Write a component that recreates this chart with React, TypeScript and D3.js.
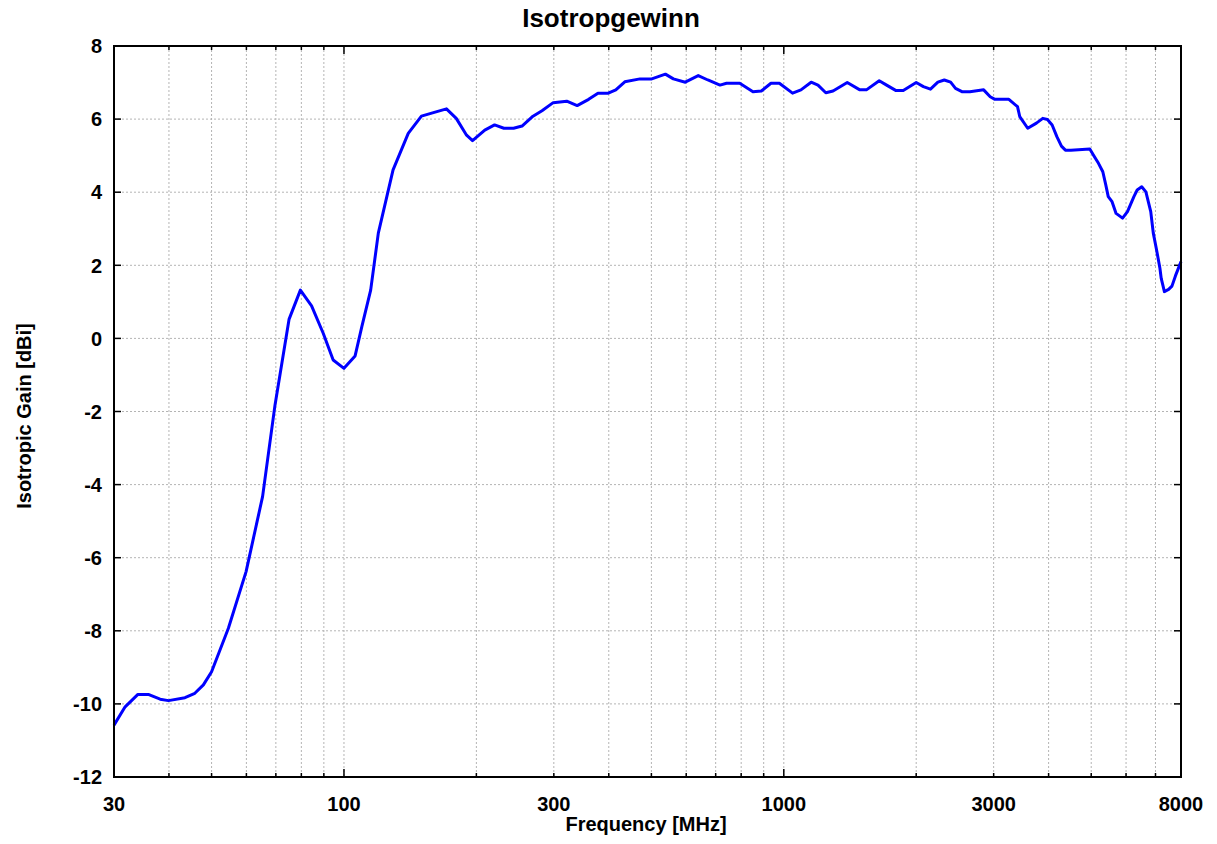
import * as d3 from "d3"

const W = 1217
const H = 844
const margin = { top: 46, right: 36, bottom: 67, left: 114 }
const innerW = W - margin.left - margin.right
const innerH = H - margin.top - margin.bottom

// frequency [MHz]
const freqs = [
  30, 31.8, 34, 35.9, 38.2, 39.9, 43.5, 45.8, 47.9, 50, 54.6, 59.9, 65.3, 69.7, 75, 79.6, 84.4, 89.7, 94.5, 100,
  106, 109.8, 115, 119.7, 129.3, 140, 150, 159, 171, 180, 190, 196, 209, 220, 231, 243, 254, 269, 282, 299, 321,
  339, 360, 378, 399, 415, 435, 471, 501, 538, 561, 597, 639, 672, 716, 741, 794, 851, 889, 935, 977, 1047, 1094,
  1154, 1196, 1246, 1294, 1394, 1489, 1541, 1648, 1713, 1800, 1869, 2000, 2077, 2155, 2240, 2317, 2395, 2457,
  2541, 2649, 2847, 2946, 3020, 3249, 3399, 3439, 3586, 3753, 3880, 3976, 4075, 4177, 4278, 4368, 4495, 4963,
  5085, 5194, 5313, 5396, 5466, 5576, 5695, 5891, 6045, 6252, 6360, 6513, 6657, 6828, 6920, 7040, 7164, 7213,
  7334, 7498, 7630, 7770, 8000,
]
// isotropic gain [dBi]
const gains = [
  -10.58, -10.08, -9.74, -9.74, -9.87, -9.91, -9.83, -9.71, -9.48, -9.12, -7.93, -6.38, -4.33, -1.82, 0.52, 1.32,
  0.89, 0.14, -0.59, -0.82, -0.48, 0.32, 1.32, 2.88, 4.61, 5.61, 6.08, 6.17, 6.28, 6.02, 5.56, 5.41, 5.7, 5.84,
  5.75, 5.75, 5.81, 6.08, 6.23, 6.45, 6.49, 6.37, 6.54, 6.71, 6.71, 6.8, 7.02, 7.1, 7.1, 7.23, 7.1, 7.01, 7.19,
  7.07, 6.93, 6.98, 6.98, 6.75, 6.77, 6.98, 6.98, 6.71, 6.8, 7.01, 6.93, 6.72, 6.77, 7.0, 6.8, 6.8, 7.05, 6.93,
  6.78, 6.78, 7.0, 6.89, 6.82, 7.01, 7.07, 7.01, 6.84, 6.75, 6.75, 6.8, 6.61, 6.54, 6.54, 6.34, 6.07, 5.75, 5.89,
  6.02, 5.99, 5.84, 5.52, 5.26, 5.15, 5.15, 5.18, 4.97, 4.79, 4.56, 4.2, 3.88, 3.74, 3.42, 3.29, 3.47, 3.88, 4.06,
  4.15, 4.01, 3.47, 2.88, 2.42, 1.92, 1.64, 1.28, 1.34, 1.43, 1.71, 2.1,
]

const xTickLabels = [30, 100, 300, 1000, 3000, 8000]
const yTicks = [-12, -10, -8, -6, -4, -2, 0, 2, 4, 6, 8]

const font = "'Liberation Sans', Arial, sans-serif"

export default function App() {
  const x = d3.scaleLog().domain([30, 8000]).range([0, innerW])
  const y = d3.scaleLinear().domain([-12, 8]).range([innerH, 0])

  // minor grid: 1..9 multiples of each decade inside the domain
  const gridX: number[] = []
  for (const dec of [10, 100, 1000]) {
    for (let m = 1; m <= 9; m++) {
      const v = dec * m
      if (v > 30 && v < 8000) gridX.push(v)
    }
  }

  const data = freqs.map((f, i) => [f, gains[i]] as [number, number])
  const line = d3
    .line<[number, number]>()
    .x((d) => x(d[0]))
    .y((d) => y(d[1]))

  return (
    <svg width={W} height={H} style={{ display: "block", margin: "-8px", background: "#fff" }} fontFamily={font}>
      <text x={611} y={27} textAnchor="middle" fontSize={26} fontWeight="bold">
        Isotropgewinn
      </text>
      <g transform={`translate(${margin.left},${margin.top})`}>
        {/* grid */}
        {gridX.map((v) => (
          <line key={"gx" + v} x1={x(v)} x2={x(v)} y1={0} y2={innerH} stroke="#b4b4b4" strokeDasharray="2,2" />
        ))}
        {yTicks.slice(1, -1).map((v) => (
          <line key={"gy" + v} x1={0} x2={innerW} y1={y(v)} y2={y(v)} stroke="#b4b4b4" strokeDasharray="2,2" />
        ))}

        {/* ticks */}
        {gridX.map((v) => {
          const len = v === 100 || v === 1000 ? 8 : 4
          return (
            <g key={"t" + v}>
              <line x1={x(v)} x2={x(v)} y1={innerH} y2={innerH - len} stroke="#000" strokeWidth={1.5} />
              <line x1={x(v)} x2={x(v)} y1={0} y2={len} stroke="#000" strokeWidth={1.5} />
            </g>
          )
        })}
        {yTicks.map((v) => (
          <g key={"ty" + v}>
            <line x1={0} x2={7} y1={y(v)} y2={y(v)} stroke="#000" strokeWidth={1.5} />
            <line x1={innerW} x2={innerW - 7} y1={y(v)} y2={y(v)} stroke="#000" strokeWidth={1.5} />
            <text x={-12} y={y(v)} dy="0.36em" textAnchor="end" fontSize={20} fontWeight="bold">
              {v}
            </text>
          </g>
        ))}
        {xTickLabels.map((v) => (
          <text key={"xl" + v} x={x(v)} y={innerH + 34} textAnchor="middle" fontSize={20} fontWeight="bold">
            {v}
          </text>
        ))}

        {/* curve */}
        <path d={line(data) ?? ""} fill="none" stroke="#0000ff" strokeWidth={3} strokeLinejoin="round" />

        {/* frame */}
        <rect x={0} y={0} width={innerW} height={innerH} fill="none" stroke="#000" strokeWidth={2} />

        <text x={532} y={innerH + 54} textAnchor="middle" fontSize={20} fontWeight="bold">
          Frequency [MHz]
        </text>
        <text transform={`translate(${-83},${370}) rotate(-90)`} textAnchor="middle" fontSize={20} fontWeight="bold">
          Isotropic Gain [dBi]
        </text>
      </g>
    </svg>
  )
}
